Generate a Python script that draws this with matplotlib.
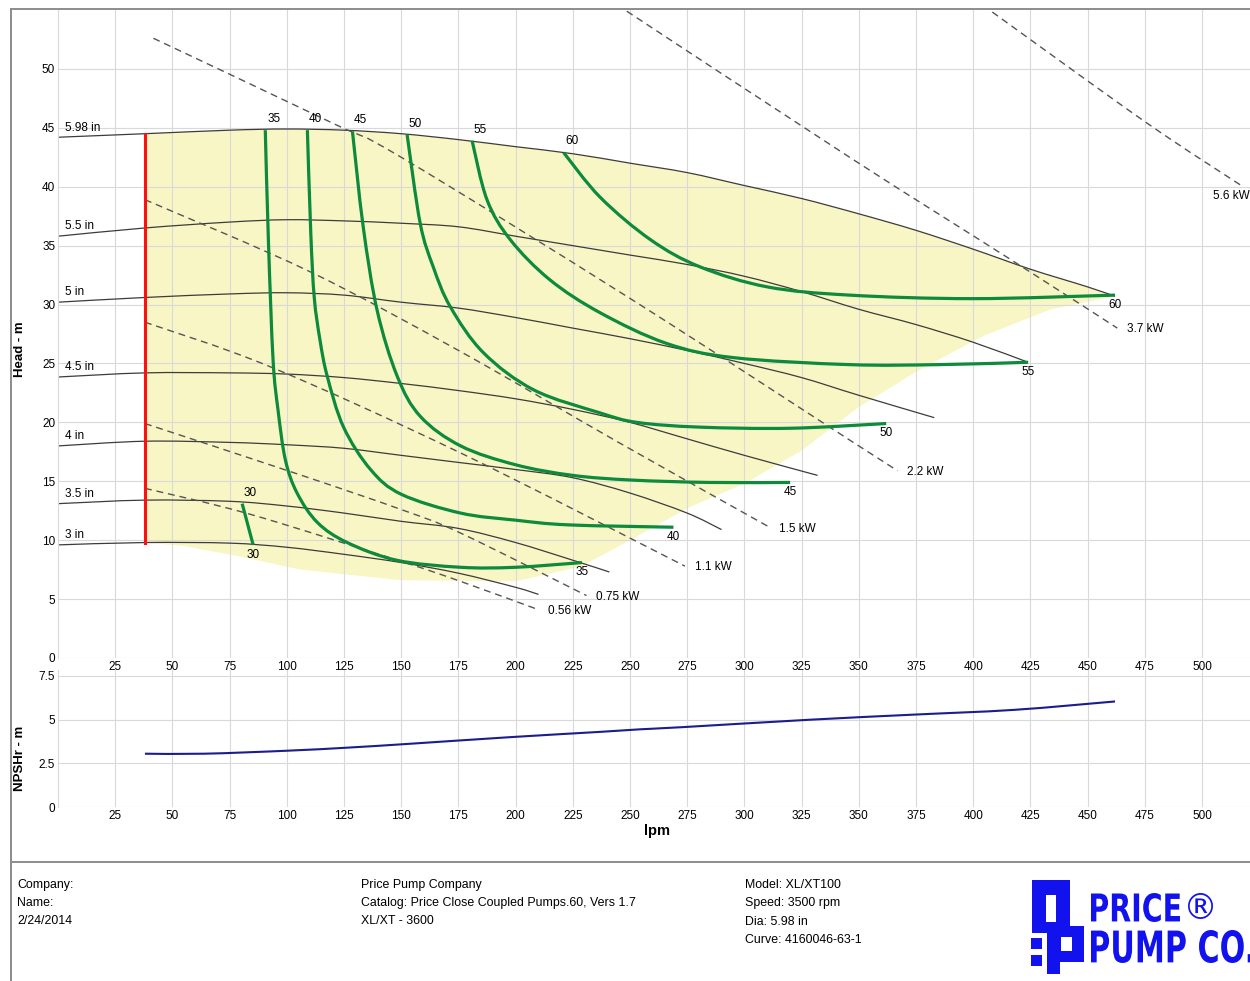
"""Pump performance curve - XL/XT100, 3500 rpm"""
import numpy as np
import matplotlib
matplotlib.use('Agg')
import matplotlib.pyplot as plt
import matplotlib.transforms as mtransforms
from matplotlib.lines import Line2D
from matplotlib.path import Path
from matplotlib.patches import Rectangle, PathPatch
from matplotlib.textpath import TextPath
from matplotlib.font_manager import FontProperties

plt.rcParams['font.family'] = ['Liberation Sans', 'DejaVu Sans']

# impeller diameter curves: flow (lpm) / head (m)
q_d598 = [0, 38, 75, 100, 125, 150, 175, 200, 225, 250, 275, 300, 325, 350, 375, 400, 425, 450, 462]
h_d598 = [44.2, 44.5, 44.8, 44.9, 44.8, 44.5, 44.0, 43.4, 42.8, 42.0, 41.2, 40.1, 39.0, 37.7, 36.3, 34.7, 33.0, 31.5, 30.7]
q_d55 = [0, 38, 75, 100, 125, 150, 175, 200, 225, 250, 275, 300, 325, 350, 375, 400, 424]
h_d55 = [35.8, 36.5, 37.0, 37.2, 37.1, 36.9, 36.6, 35.8, 35.0, 34.2, 33.4, 32.4, 31.1, 29.6, 28.3, 26.8, 25.1]
q_d50 = [0, 38, 75, 100, 125, 150, 175, 200, 225, 250, 275, 300, 325, 350, 383]
h_d50 = [30.2, 30.6, 30.9, 31.0, 30.8, 30.2, 29.7, 28.9, 28.0, 27.1, 26.1, 25.0, 23.8, 22.3, 20.4]
q_d45 = [0, 38, 75, 100, 125, 150, 175, 200, 225, 250, 275, 300, 332]
h_d45 = [23.85, 24.2, 24.2, 24.1, 23.8, 23.3, 22.7, 22.0, 21.1, 20.0, 18.6, 17.2, 15.5]
q_d40 = [0, 38, 75, 100, 125, 150, 175, 200, 225, 250, 275, 290]
h_d40 = [18.0, 18.4, 18.3, 18.1, 17.8, 17.2, 16.6, 16.0, 15.3, 14.0, 12.3, 10.9]
q_d35 = [0, 38, 75, 100, 125, 150, 175, 200, 225, 241]
h_d35 = [13.1, 13.4, 13.3, 12.9, 12.3, 11.6, 11.0, 9.8, 8.3, 7.3]
q_d30 = [0, 38, 75, 100, 125, 150, 175, 200, 210]
h_d30 = [9.6, 9.8, 9.75, 9.4, 8.8, 8.1, 7.2, 6.0, 5.4]
dia_labels = ['5.98 in', '5.5 in', '5 in', '4.5 in', '4 in', '3.5 in', '3 in']

# efficiency curves (%)
q_e30 = [80.5, 85.3]
h_e30 = [13.1, 9.6]
q_e35 = [90.6, 92, 94, 96.2, 99.4, 104.5, 113.4, 126.4, 148, 176, 200, 229]
h_e35 = [44.8, 35.2, 25.3, 21.0, 16.8, 14.0, 11.5, 9.8, 8.3, 7.7, 7.7, 8.1]
q_e40 = [109, 110.5, 112, 114.5, 117.7, 124.8, 136.6, 150, 176, 200, 223, 269]
h_e40 = [44.8, 36.0, 30.6, 27.0, 23.9, 19.6, 16.0, 13.9, 12.3, 11.7, 11.3, 11.1]
q_e45 = [128.7, 133.4, 139.5, 148.3, 158.4, 176, 200, 225, 251, 285, 320]
h_e45 = [44.7, 36.6, 29.5, 23.9, 20.5, 18.0, 16.4, 15.5, 15.1, 14.9, 14.9]
q_e50 = [152.6, 158.3, 164, 171.5, 186, 208, 237, 253, 280, 320, 362]
h_e50 = [44.4, 36.9, 33.2, 29.8, 25.9, 22.75, 20.8, 20.0, 19.6, 19.5, 19.9]
q_e55 = [181, 187.5, 197.7, 215, 237, 266, 295, 346, 385, 424]
h_e55 = [43.9, 38.9, 35.5, 32.1, 29.3, 26.7, 25.5, 24.9, 24.9, 25.1]
q_e60 = [221, 237, 259, 280.6, 310, 346, 400, 462]
h_e60 = [42.9, 39.1, 35.5, 33.2, 31.5, 30.8, 30.5, 30.8]
eff_labels = ['30', '35', '40', '45', '50', '55', '60']

# power lines
q_p056 = [38, 84, 150, 176, 210]
h_p056 = [14.4, 12.2, 8.2, 6.5, 4.1]
q_p075 = [38, 105, 150, 176, 231]
h_p075 = [19.9, 15.6, 12.6, 10.6, 5.3]
q_p11 = [38, 93, 176, 274]
h_p11 = [28.5, 24.7, 17.4, 7.8]
q_p15 = [38, 110, 176, 245, 311]
h_p15 = [38.9, 32.8, 26.0, 18.3, 11.1]
q_p22 = [41.7, 120, 150, 251, 346, 367]
h_p22 = [52.6, 45.4, 42.5, 30.4, 18.5, 15.9]
q_p37 = [240, 346, 419, 463]
h_p37 = [56.0, 42.5, 33.5, 28.0]
q_p56 = [400, 474.5, 518]
h_p56 = [56.0, 45.6, 40.0]
pw_labels = ['0.56 kW', '0.75 kW', '1.1 kW', '1.5 kW', '2.2 kW', '3.7 kW', '5.6 kW']

# operating zone (lower edge), minimum flow line
q_zone_low = [462, 434, 404, 376, 350, 325, 300, 276, 250, 229, 200, 150, 106, 80, 55, 38]
h_zone_low = [30.7, 29.6, 27.3, 24.4, 21.3, 17.6, 14.8, 12.8, 10.0, 7.8, 6.5, 6.6, 7.5, 8.6, 9.5, 9.8]
q_min = [38, 38]
h_min = [9.8, 44.5]

# NPSHr
q_npsh = [38, 64, 100, 127, 154, 198, 237, 255, 273, 328, 373, 418, 462]
h_npsh = [3.05, 3.05, 3.22, 3.4, 3.62, 4.0, 4.3, 4.45, 4.57, 4.99, 5.28, 5.56, 6.04]

footer_left = ['Company:', 'Name:', '2/24/2014']
footer_mid = ['Price Pump Company', 'Catalog: Price Close Coupled Pumps.60, Vers 1.7', 'XL/XT - 3600']
footer_right = ['Model: XL/XT100', 'Speed: 3500 rpm', 'Dia: 5.98 in', 'Curve: 4160046-63-1']

W, H = 1250, 981
GRID = '#d9d9d9'
GREEN = '#0d8a3b'
BLUE = '#1212ee'

fig = plt.figure(figsize=(W / 100, H / 100), dpi=100)


def px(x, y):
    """pixel (top-left origin) -> figure fraction"""
    return x / W, 1 - y / H


def smooth_path(q, h):
    """bezier path through the read points (catmull-rom style)"""
    p = np.column_stack([q, h]).astype(float)
    if len(p) < 3:
        return Path(p)
    ext = np.vstack([p[0], p, p[-1]])
    verts = [p[0]]
    codes = [Path.MOVETO]
    for i in range(len(p) - 1):
        p0, p1, p2, p3 = ext[i], ext[i + 1], ext[i + 2], ext[i + 3]
        verts += [p1 + (p2 - p0) / 6, p2 - (p3 - p1) / 6, p2]
        codes += [Path.CURVE4] * 3
    return Path(verts, codes)


def draw_curve(a, q, h, **kw):
    a.add_patch(PathPatch(smooth_path(q, h), fill=False, **kw))


def style_axes(a):
    for s in ['top', 'right', 'bottom']:
        a.spines[s].set_visible(False)
    a.spines['left'].set_color(GRID)
    a.spines['left'].set_linewidth(0.8)
    a.set_axisbelow('line')
    a.grid(True, color=GRID, lw=0.8)
    a.tick_params(length=0, labelsize=8.5, pad=2)
    a.set_xticks(np.arange(25, 501, 25))
    a.set_xlim(0, 521)


# ---- head chart
ax = fig.add_axes([58 / W, 1 - 658 / H, (W - 58) / W, 648 / H])
style_axes(ax)
ax.set_ylim(0, 55)
ax.set_yticks(np.arange(0, 51, 5))
ax.patch.set_alpha(0)

zone_q = [q for q in q_d598 if q >= 38] + q_zone_low
zone_h = [h for q, h in zip(q_d598, h_d598) if q >= 38] + h_zone_low
ax.fill(zone_q, zone_h, color='#f8f6c4', lw=0, zorder=1)

dia_q = [q_d598, q_d55, q_d50, q_d45, q_d40, q_d35, q_d30]
dia_h = [h_d598, h_d55, h_d50, h_d45, h_d40, h_d35, h_d30]
for q, h, lab in zip(dia_q, dia_h, dia_labels):
    draw_curve(ax, q, h, edgecolor='#3c3c3c', lw=0.9, zorder=2)
    ax.annotate(lab, (q[0], h[0]), xytext=(5, 7), textcoords='offset points',
                ha='left', va='center', fontsize=8.5)

pw_q = [q_p056, q_p075, q_p11, q_p15, q_p22, q_p37, q_p56]
pw_h = [h_p056, h_p075, h_p11, h_p15, h_p22, h_p37, h_p56]
for q, h, lab in zip(pw_q, pw_h, pw_labels):
    draw_curve(ax, q, h, edgecolor='#555555', lw=1.0, linestyle=(0, (5, 3.5)), zorder=2.2)
    off = (-22, -7) if lab == '5.6 kW' else (7, -1)
    ax.annotate(lab, (q[-1], h[-1]), xytext=off, textcoords='offset points',
                ha='left', va='center', fontsize=8.5, annotation_clip=False)

eff_q = [q_e30, q_e35, q_e40, q_e45, q_e50, q_e55, q_e60]
eff_h = [h_e30, h_e35, h_e40, h_e45, h_e50, h_e55, h_e60]
for q, h, lab in zip(eff_q, eff_h, eff_labels):
    draw_curve(ax, q, h, edgecolor=GREEN, lw=2.3, zorder=3, capstyle='butt')
    ax.annotate(lab, (q[0], h[0]), xytext=(6, 8), textcoords='offset points',
                ha='center', va='center', fontsize=8.5)
    ax.annotate(lab, (q[-1], h[-1]), xytext=(0, -7), textcoords='offset points',
                ha='center', va='center', fontsize=8.5)

ax.plot(q_min, h_min, color='#ff1010', lw=2.2, zorder=3.5)

# ---- NPSHr chart
ax2 = fig.add_axes([58 / W, 1 - 807 / H, (W - 58) / W, 137 / H])
style_axes(ax2)
ax2.set_ylim(0, 7.84)
ax2.set_yticks([0, 2.5, 5, 7.5])
ax2.set_yticklabels(['0', '2.5', '5', '7.5'])
ax2.patch.set_alpha(0)
draw_curve(ax2, q_npsh, h_npsh, edgecolor='#1c1c8c', lw=1.5, zorder=3)

fig.text(*px(20, 349), 'Head - m', rotation=90, ha='center', va='center',
         fontsize=9.5, fontweight='bold')
fig.text(*px(20, 758), 'NPSHr - m', rotation=90, ha='center', va='center',
         fontsize=9.5, fontweight='bold')
fig.text(*px(657, 831), 'lpm', ha='center', va='center', fontsize=10.5, fontweight='bold')

# ---- frame and footer
for xs, ys in [([11, 11], [9, H]), ([11, W], [9, 9]), ([11, W], [862, 862])]:
    fig.add_artist(Line2D([x / W for x in xs], [1 - y / H for y in ys],
                          transform=fig.transFigure, color='#8c8c8c', lw=1.4))

for i, s in enumerate(footer_left):
    fig.text(*px(17, 885 + 18 * i), s, ha='left', va='center', fontsize=8.9)
for i, s in enumerate(footer_mid):
    fig.text(*px(361, 885 + 18 * i), s, ha='left', va='center', fontsize=8.9)
for i, s in enumerate(footer_right):
    fig.text(*px(745, 885 + 18.3 * i), s, ha='left', va='center', fontsize=8.9)

# ---- logo
to_fig = mtransforms.Affine2D().scale(1 / W, 1 / H) + fig.transFigure


def pix_rect(x0, y0, x1, y1, color):
    fig.add_artist(Rectangle((x0, H - y1), x1 - x0, y1 - y0, color=color, lw=0,
                             transform=to_fig))


def pix_text(s, x0, y0, x1, y1, weight='bold'):
    tp = TextPath((0, 0), s, size=1, prop=FontProperties(family='DejaVu Sans', weight=weight))
    ext = tp.get_extents()
    tr = (mtransforms.Affine2D().translate(-ext.x0, -ext.y0)
          .scale((x1 - x0) / ext.width, (y1 - y0) / ext.height)
          .translate(x0, H - y1)) + to_fig
    fig.add_artist(PathPatch(tp, color=BLUE, lw=0, transform=tr))


pix_rect(1032, 880, 1070, 933, BLUE)
pix_rect(1046, 895, 1056, 922, 'white')
pix_rect(1047, 926, 1084, 962, BLUE)
pix_rect(1061, 937, 1072, 951, 'white')
pix_rect(1047, 962, 1060, 974, BLUE)
pix_rect(1031, 938, 1042, 949, BLUE)
pix_rect(1031, 955, 1042, 966, BLUE)
pix_text('PRICE', 1091, 893, 1180, 922)
pix_text('\u00ae', 1188, 893, 1213, 919, weight='normal')
pix_text('PUMP CO.', 1091, 930, 1253, 963)

fig.savefig('out.png', dpi=100)
plt.close(fig)
